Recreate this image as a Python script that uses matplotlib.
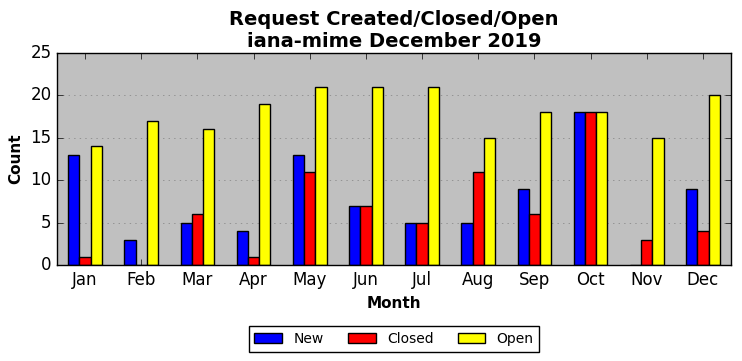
import matplotlib
matplotlib.use("Agg")
import matplotlib.pyplot as plt
import numpy as np

months = ["Jan", "Feb", "Mar", "Apr", "May", "Jun",
          "Jul", "Aug", "Sep", "Oct", "Nov", "Dec"]
new = [13, 3, 5, 4, 13, 7, 5, 5, 9, 18, 0, 9]
closed = [1, 0, 6, 1, 11, 7, 5, 11, 6, 18, 3, 4]
open_ = [14, 17, 16, 19, 21, 21, 21, 15, 18, 18, 15, 20]

plt.style.use("classic")

fig = plt.figure(figsize=(7.42, 3.61), dpi=100)
ax = fig.add_axes([57 / 742, 1 - 265 / 361, 674 / 742, 212 / 361])
ax.set_facecolor("silver")

x = np.arange(len(months))
w = 0.2
ax.bar(x - w, new, w, align="center", color="blue", edgecolor="black", label="New")
ax.bar(x, closed, w, align="center", color="red", edgecolor="black", label="Closed")
ax.bar(x + w, open_, w, align="center", color="yellow", edgecolor="black", label="Open")

ax.set_xlim(-0.5, 11.5)
ax.set_ylim(0, 25)
ax.set_xticks(x)
ax.set_xticklabels(months)
ax.yaxis.grid(True, linestyle=":", color="gray")
ax.set_axisbelow(True)

ax.set_title("Request Created/Closed/Open\niana-mime December 2019",
             fontsize=14, fontweight="bold", y=0.995)
ax.set_xlabel("Month", fontsize=11, fontweight="bold")
ax.set_ylabel("Count", fontsize=11, fontweight="bold")

ax.legend(loc="upper center", bbox_to_anchor=(0.5, -0.29), ncol=3,
          fontsize=10, borderaxespad=0, columnspacing=1.75)

fig.savefig("out.png", dpi=100)
